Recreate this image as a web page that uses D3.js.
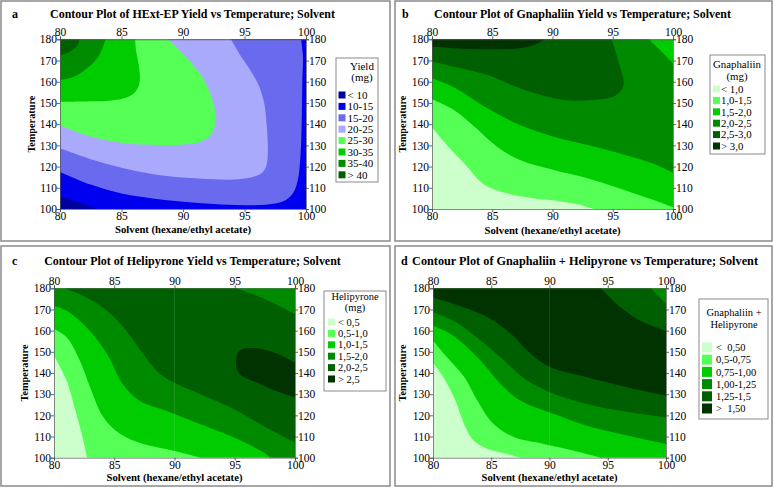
<!DOCTYPE html>
<html><head><meta charset="utf-8">
<script src="https://cdn.jsdelivr.net/npm/d3@7"></script>
<style>
body{margin:0;background:#fff}
svg text{font-family:"Liberation Serif","Times New Roman",serif !important;fill:#000}
</style>
</head><body>
<svg id="chart" width="774" height="488"></svg>
<script>
// ---------- axis tick values ----------
const solventTicks = [80, 85, 90, 95, 100];
const tempTicks = [100, 110, 120, 130, 140, 150, 160, 170, 180];

// ---------- panel a : HExt-EP yield ----------
const aLevels = [10, 15, 20, 25, 30, 35, 40];
const aLabels = ["< 10", "10-15", "15-20", "20-25", "25-30", "30-35", "35-40", "> 40"];
const aC10 = [[80,106],[81.5,103.2],[83,100]];
const aC15 = [[80,117.5],[82.5,111.5],[85,107.3],[87.5,105],[90,103.4],[92.5,102.3],[95,101.8],[97,102.2],[98.3,104],[99,108],[99.35,114],[99.55,125],[99.65,140],[99.7,160],[99.75,172],[99.6,180]];
const aC20 = [[80,128.6],[82.5,123.5],[85,119.5],[87.5,116.5],[90,114.8],[92.5,114],[94.5,114],[95.8,115.3],[96.5,117.5],[96.8,121],[96.9,128],[96.8,140],[96.6,150],[96.1,159],[95.3,167],[94.6,173],[93.9,180]];
const aC25 = [[80,139.6],[82,135],[84,132.2],[86,130.6],[88,130.2],[90,130.4],[91.3,131.5],[92.2,134.5],[92.6,140],[92.6,146],[92.3,153],[91.6,162],[90.5,170],[89.7,175],[88.8,180]];
const aC30 = [[80,150.6],[82,150.7],[84,151],[85.2,152.2],[86,154.5],[86.4,158],[86.5,162],[86.4,168],[86.2,174],[86.1,180]];
const aC35 = [[80,160.8],[81.1,162.2],[82.2,166.3],[83.2,172.6],[83.7,180]];
const aC40 = [[80,172.6],[80.6,173.6],[81.2,175.8],[81.5,178],[81.6,180]];

// ---------- panel b : Gnaphaliin ----------
const bLevels = [1.0, 1.5, 2.0, 2.5, 3.0];
const bLabels = ["< 1,0", "1,0-1,5", "1,5-2,0", "2,0-2,5", "2,5-3,0", "> 3,0"];
const bC10 = [[80,138.4],[81.5,128.5],[83,119.5],[84,113],[85,109.5],[86.5,107],[88.5,105],[90.5,103.8],[92,102.3],[93.4,100]];
const bC15 = [[80,151.7],[81.8,146.7],[83.7,138],[85.4,129.4],[87.3,123.1],[90.1,118.4],[92.9,114.5],[95.6,109.7],[98.4,104.2],[100,100.8]];
const bC20 = [[80,161.6],[81.8,157.4],[84.6,147.5],[87.3,139.6],[90.1,134.1],[92.9,130.2],[95.6,126.2],[98.4,121.3],[100,117]];
const bC20corner = [[100,168.7],[99,174.5],[98,180]];
const bC25 = [[80,169.5],[81.8,167.1],[84.6,163.2],[87.3,156.9],[90.1,152.2],[91.5,151.1],[93.4,151.4],[95.1,153],[95.8,156.9],[95.9,160.8],[95.6,167.1],[95.2,175],[94.9,180]];
const bC30 = [[80,176.5],[81.8,175.8],[84.6,175.3],[87.3,175.8],[88.7,177.8],[89.4,180]];

// ---------- panel c : Helipyrone ----------
const cLevels = [0.5, 1.0, 1.5, 2.0, 2.5];
const cLabels = ["< 0,5", "0,5-1,0", "1,0-1,5", "1,5-2,0", "2,0-2,5", "> 2,5"];
const cC05 = [[80,148.2],[81.05,136.4],[81.7,123.8],[82.3,111.2],[82.76,100]];
const cC10 = [[80,160.8],[81.05,156.9],[82.15,145.8],[83,133.2],[84.1,119.1],[85.5,111.2],[87.4,106.5],[89.3,104.1],[91,101.7],[92.1,100]];
const cC15 = [[80,171.8],[81.05,169.4],[82.7,161.6],[84.4,149],[85.7,134.8],[87.1,126.9],[89.3,122.2],[92.1,115.9],[94.9,109.6],[97.6,101.7],[97.9,100]];
const cC20 = [[80.9,180],[82.7,175.7],[84.4,169.4],[86,160],[87.4,149],[88.8,139.5],[90.2,134.8],[92.1,130.1],[94.9,123],[97.6,114.3],[100,107.2]];
const cC20corner = [[100,167.9],[97.5,175],[95.1,180]];
const cC25 = [[100,145],[98.2,149.8],[96.5,151.8],[95.4,150.6],[95.1,144.3],[95.4,139.5],[97.1,134.8],[98.7,130.9],[100,128.5]];

// ---------- panel d : Gnaphaliin + Helipyrone ----------
const dLevels = [0.5, 0.75, 1.0, 1.25, 1.5];
const dLabels = ["<  0,50", "0,5-0,75", "0,75-1,00", "1,00-1,25", "1,25-1,5", ">  1,50"];
const dC050 = [[80,145],[80.9,138],[81.8,128.5],[82.8,114.3],[83.5,108],[84.7,104.1],[86.4,101.7],[87.5,100]];
const dC075 = [[80,155.3],[81.2,147.4],[82.7,138],[83.8,127],[85.2,115.9],[87,109.6],[89.5,106.5],[92.1,103.3],[94.4,100]];
const dC100 = [[80,162.4],[81.8,157.4],[84.1,145.8],[85.8,134.8],[87.5,127],[90.4,120.6],[93.2,115.1],[96.1,111.2],[100,106.5]];
const dC125 = [[80,168.7],[81.8,164.5],[84.1,155.3],[86.1,145.8],[88.1,136.4],[90.4,130.1],[93.2,125.4],[96.1,122.2],[100,119]];
const dC125corner = [[100,172.6],[98.7,180]];
const dC150 = [[80,175.5],[81.8,172.6],[84.7,166.3],[86.7,158.4],[88.4,149],[90.1,142.7],[93.2,138],[96.1,134],[100,129.3]];
const dC150corner = [[100,160],[97.8,164.7],[96.1,171],[94.4,180]];

// ---------- styles ----------
const blueGreen = ["#00009c", "#0000ee", "#6a6aef", "#aaaafd", "#55ff55", "#00cc00", "#008c00", "#005f00"];
const greens = ["#ccffcc", "#55ff55", "#00cc00", "#008a00", "#005f00", "#003300"];

const TR = [100, 180], TL = [80, 180], BRc = [100, 100];

const panels = [
  {
    letter: "a", title: "Contour Plot of HExt-EP Yield vs Temperature; Solvent",
    frame: [1, 1, 389, 240], plot: [60, 39.3, 306, 209], titleSpan: [50, 335], titleY: 18, letterX: 12,
    xTitleY: 233, yTitleX: 35,
    colors: blueGreen, labels: aLabels,
    regions: [
      [aC10, [BRc], [TR], [TL]],
      [aC15, [TL]],
      [aC20, [TL]],
      [aC25, [TL]],
      [aC30, [TL]],
      [aC35, [TL]],
      [aC40, [TL]]
    ],
    legend: { box: [336, 58, 42, 124], title: ["Yield", "(mg)"], titleX: 362, titleY: [70, 81],
      y0: 95, dy: 11.4, sw: 7, swX: 338.5, textX: 347.5, fs: 11 },
    faint: false
  },
  {
    letter: "b", title: "Contour Plot of Gnaphaliin Yield vs Temperature; Solvent",
    frame: [395, 1, 377, 240], plot: [432, 39.3, 673, 209], titleSpan: [434, 731], titleY: 18, letterX: 402,
    xTitleY: 234, yTitleX: 406,
    colors: greens, labels: bLabels,
    regions: [
      [bC10, [BRc], [TR], [TL]],
      [bC15, [TR], [TL]],
      [bC20, bC20corner, [TL]],
      [bC25, [TL]],
      [bC30, [TL]]
    ],
    legend: { box: [710, 55, 55, 99], title: ["Gnaphaliin", "(mg)"], titleX: 737, titleY: [68, 80],
      y0: 89, dy: 11.4, sw: 7, swX: 713, textX: 721, fs: 10.8 },
    faint: false
  },
  {
    letter: "c", title: "Contour Plot of Helipyrone Yield vs Temperature; Solvent",
    frame: [1, 246, 389, 240], plot: [54, 288.3, 295, 457.7], titleSpan: [44, 341], titleY: 265, letterX: 12,
    xTitleY: 481, yTitleX: 28,
    colors: greens, labels: cLabels,
    regions: [
      [cC05, [BRc], [TR], [TL]],
      [cC10, [BRc], [TR], [TL]],
      [cC15, [BRc], [TR], [TL]],
      [cC20, cC20corner],
      [cC25]
    ],
    legend: { box: [324, 291, 62, 100], title: ["Helipyrone", "(mg)"], titleX: 355, titleY: [300, 311],
      y0: 322, dy: 11.4, sw: 7, swX: 328, textX: 338, fs: 10.5 },
    faint: true
  },
  {
    letter: "d", title: "Contour Plot of Gnaphaliin + Helipyrone vs Temperature; Solvent",
    frame: [395, 246, 377, 240], plot: [433, 288.3, 666, 457.7], titleSpan: [412, 758], titleY: 265, letterX: 401,
    xTitleY: 481, yTitleX: 406,
    colors: greens, labels: dLabels,
    regions: [
      [dC050, [BRc], [TR], [TL]],
      [dC075, [BRc], [TR], [TL]],
      [dC100, [TR], [TL]],
      [dC125, dC125corner, [TL]],
      [dC150, dC150corner, [TL]]
    ],
    legend: { box: [699, 299, 69, 120], title: ["Gnaphaliin +", "Helipyrone"], titleX: 734, titleY: [316, 328],
      y0: 347.5, dy: 12.2, sw: 10, swX: 702, textX: 716, fs: 10.5 },
    faint: true
  }
];

const svg = d3.select("#chart");

function regionPath(parts, x, y) {
  const gen = d3.line().x(d => x(d[0])).y(d => y(d[1])).curve(d3.curveCatmullRom.alpha(0.5));
  let p = "";
  parts.forEach((pt, i) => {
    let s = pt.length > 1 ? gen(pt) : `M${x(pt[0][0])},${y(pt[0][1])}`;
    if (i > 0) s = "L" + s.slice(1);
    p += s;
  });
  return p + "Z";
}

// fit a text's font size so that it spans the wanted width
function fitText(sel, base, width) {
  sel.style("font-size", base + "px");
  const w = sel.node().getComputedTextLength();
  if (w > 0) sel.style("font-size", (base * width / w).toFixed(2) + "px");
}

panels.forEach((P, pi) => {
  const g = svg.append("g");
  const [fx, fy, fw, fh] = P.frame;
  g.append("rect").attr("x", fx).attr("y", fy).attr("width", fw).attr("height", fh)
    .attr("fill", "#fff").attr("stroke", "#8a8a8a").attr("stroke-width", 1.5);

  const [x0, y0, x1, y1] = P.plot;
  const x = d3.scaleLinear().domain([80, 100]).range([x0, x1]);
  const y = d3.scaleLinear().domain([100, 180]).range([y1, y0]);

  const clipId = "clip" + pi;
  g.append("clipPath").attr("id", clipId).append("rect")
    .attr("x", x0).attr("y", y0).attr("width", x1 - x0).attr("height", y1 - y0);
  const plotG = g.append("g").attr("clip-path", `url(#${clipId})`);
  plotG.append("rect").attr("x", x0).attr("y", y0).attr("width", x1 - x0).attr("height", y1 - y0)
    .attr("fill", P.colors[0]);
  P.regions.forEach((parts, i) => {
    plotG.append("path").attr("d", regionPath(parts, x, y)).attr("fill", P.colors[i + 1]);
  });
  if (P.faint) {
    plotG.append("line").attr("x1", x(90)).attr("x2", x(90)).attr("y1", y0).attr("y2", y1)
      .attr("stroke", "#fff").attr("stroke-opacity", 0.1).attr("stroke-width", 1);
  }

  const styleAxis = sel => {
    sel.attr("font-family", null).attr("font-size", null);
    sel.selectAll("text").style("font-size", "11.5px").attr("fill", "#000");
    sel.selectAll("line").attr("stroke", "#444").attr("stroke-width", 0.8);
    sel.select(".domain").attr("stroke", "#555").attr("stroke-width", 0.7);
  };
  g.append("g").attr("transform", `translate(0,${y1})`)
    .call(d3.axisBottom(x).tickValues(solventTicks).tickSize(3).tickPadding(0)).call(styleAxis);
  g.append("g").attr("transform", `translate(0,${y0})`)
    .call(d3.axisTop(x).tickValues(solventTicks).tickSize(3).tickPadding(0)).call(styleAxis);
  g.append("g").attr("transform", `translate(${x0},0)`)
    .call(d3.axisLeft(y).tickValues(tempTicks).tickSize(3).tickPadding(0)).call(styleAxis);
  g.append("g").attr("transform", `translate(${x1},0)`)
    .call(d3.axisRight(y).tickValues(tempTicks).tickSize(3).tickPadding(0)).call(styleAxis);

  // titles
  g.append("text").attr("x", P.letterX).attr("y", P.titleY).text(P.letter)
    .style("font-weight", "bold").style("font-size", "12px");
  const t = g.append("text").attr("x", (P.titleSpan[0] + P.titleSpan[1]) / 2).attr("y", P.titleY)
    .attr("text-anchor", "middle").text(P.title).style("font-weight", "bold");
  fitText(t, 12.5, P.titleSpan[1] - P.titleSpan[0]);
  const xt = g.append("text").attr("x", (x0 + x1) / 2).attr("y", P.xTitleY).attr("text-anchor", "middle")
    .text("Solvent (hexane/ethyl acetate)").style("font-weight", "bold");
  fitText(xt, 11, 136);
  const yt = g.append("text").attr("transform", `translate(${P.yTitleX},${(y0 + y1) / 2}) rotate(-90)`)
    .attr("text-anchor", "middle").text("Temperature").style("font-weight", "bold");
  fitText(yt, 11, 57);

  // legend
  const L = P.legend;
  g.append("rect").attr("x", L.box[0]).attr("y", L.box[1]).attr("width", L.box[2]).attr("height", L.box[3])
    .attr("fill", "#fff").attr("stroke", "#8a8a8a").attr("stroke-width", 1);
  L.title.forEach((tt, i) => {
    g.append("text").attr("x", L.titleX).attr("y", L.titleY[i]).attr("text-anchor", "middle")
      .text(tt).style("font-size", L.fs + "px");
  });
  P.labels.forEach((lab, i) => {
    const cy = L.y0 + i * L.dy;
    g.append("rect").attr("x", L.swX).attr("y", cy - L.sw / 2).attr("width", L.sw).attr("height", L.sw)
      .attr("fill", P.colors[i]);
    g.append("text").attr("x", L.textX).attr("y", cy).attr("dy", "0.35em")
      .text(lab).style("font-size", L.fs + "px").style("white-space", "pre");
  });
});
</script>
</body></html>
